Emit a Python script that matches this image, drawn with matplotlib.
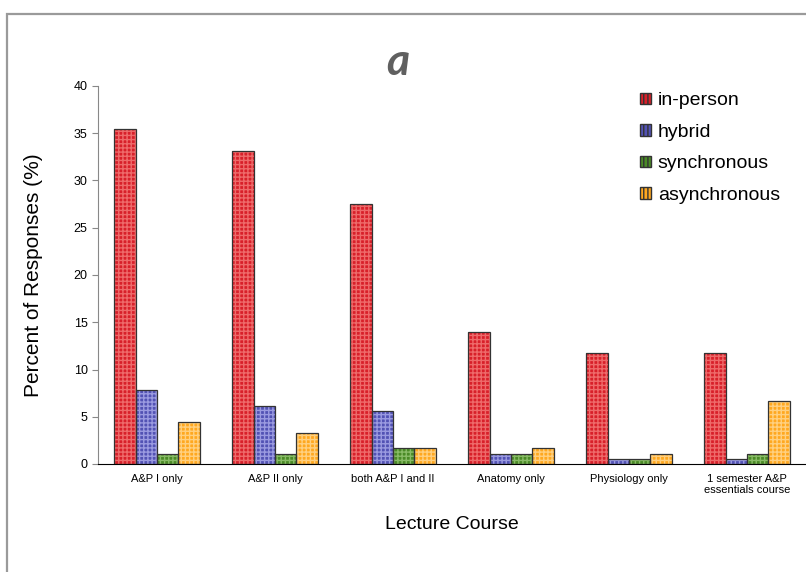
import numpy as np
import matplotlib.pyplot as plt
from matplotlib.patches import Rectangle

courses = ['A&P I only', 'A&P II only', 'both A&P I and II', 'Anatomy only',
           'Physiology only', '1 semester A&P\nessentials course']
in_person = [35.4, 33.1, 27.5, 14.0, 11.7, 11.7]
hybrid = [7.8, 6.1, 5.6, 1.1, 0.55, 0.55]
synchronous = [1.1, 1.1, 1.7, 1.1, 0.55, 1.1]
asynchronous = [4.4, 3.3, 1.7, 1.7, 1.1, 6.7]

series = [('in-person', in_person, '#d8202a', '#ee6a6a'),
          ('hybrid', hybrid, '#5252b4', '#9a9ae0'),
          ('synchronous', synchronous, '#4a8a26', '#88bb66'),
          ('asynchronous', asynchronous, '#ffa820', '#ffd080')]

plt.rcParams['font.family'] = ['Liberation Sans', 'DejaVu Sans']

fig = plt.figure(figsize=(8.06, 5.72), dpi=100)
ax = fig.add_axes([98/806, 1-464/572, 1-98/806, (464-86)/572])

# frame around the figure
fig.patches.append(Rectangle((7/806, -0.1), 1.2, 1-14/572+0.1, transform=fig.transFigure,
                             fill=False, edgecolor='#9a9a9a', linewidth=1.6, zorder=0))

x = np.arange(len(courses))
w = 0.182
for i, (name, vals, col, light) in enumerate(series):
    pos = x + (i - 1.5) * w
    ax.bar(pos, vals, w, color=col, edgecolor=light, hatch='++++', linewidth=0, zorder=2)
    ax.bar(pos, vals, w, fill=False, edgecolor='#333333', linewidth=0.9, zorder=3)
    ax.bar([0], [0], 0, color=col, edgecolor='#333333', hatch='||||', label=name)

ax.set_xlim(-0.5, 5.5)
ax.set_ylim(0, 40)
ax.set_yticks(np.arange(0, 41, 5))
ax.set_xticks(x)
ax.set_xticklabels(courses, fontsize=8)
ax.tick_params(axis='x', length=0, pad=7)
ax.tick_params(axis='y', labelsize=9, length=4, color='#888888', direction='out')
ax.spines['top'].set_visible(False)
ax.spines['right'].set_visible(False)
ax.spines['left'].set_color('#888888')
ax.spines['bottom'].set_color('black')

ax.set_ylabel('Percent of Responses (%)', fontsize=15, labelpad=22)
ax.set_xlabel('Lecture Course', fontsize=14, labelpad=15)

fig.text(398/806, 1-62/572, 'a', fontsize=32, fontweight='bold', style='italic',
         color='#606060', ha='center', va='center', family=['Lato', 'DejaVu Sans'])

leg = ax.legend(loc='upper left', bbox_to_anchor=(0.755, 1.004), borderaxespad=0,
                frameon=False, fontsize=14, handlelength=0.55, handleheight=0.55,
                handletextpad=0.35, labelspacing=0.75)

fig.savefig('out.png', dpi=100)
